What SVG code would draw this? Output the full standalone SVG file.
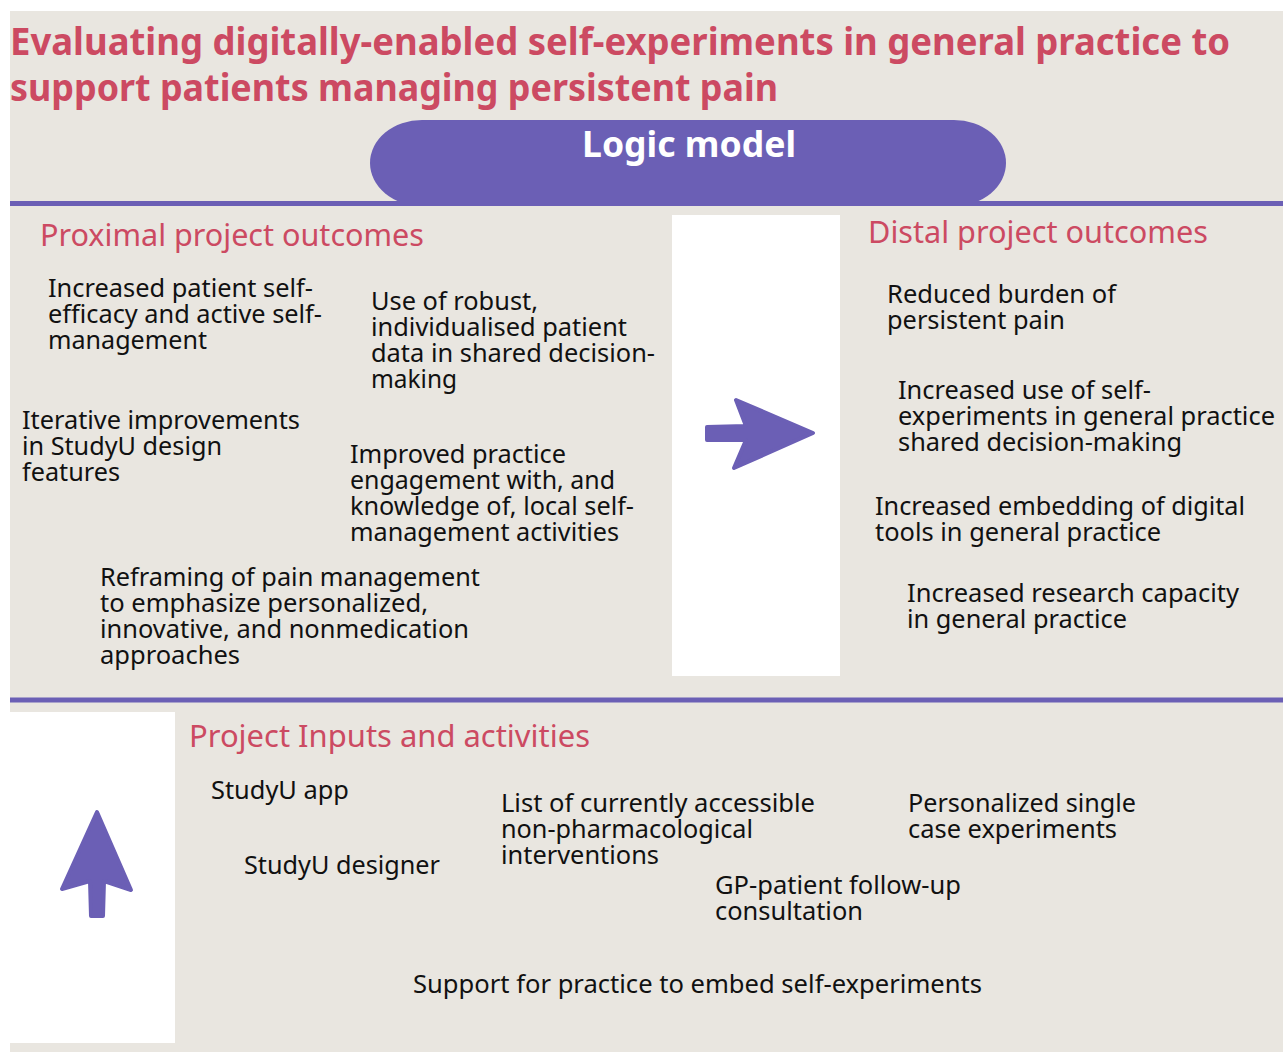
<svg xmlns="http://www.w3.org/2000/svg" width="1283" height="1052" viewBox="0 0 1283 1052">
  <style>
    .title { font-family: "Noto Sans", "DejaVu Sans", sans-serif; font-weight: 700; font-size: 38px; fill: #cc4a62; }
    .head { font-family: "Noto Sans", "DejaVu Sans", sans-serif; font-size: 30px; fill: #cc4a62; }
    .item { font-family: "Noto Sans", "DejaVu Sans", sans-serif; font-size: 24.5px; fill: #111111; }
    .pilltext { font-family: "Noto Sans", "DejaVu Sans", sans-serif; font-weight: 700; font-size: 36px; fill: #ffffff; }
    .rule { stroke: #6b5fb5; stroke-width: 5; }
    .arrow { fill: #6b5fb5; stroke: #6b5fb5; stroke-width: 4; stroke-linejoin: round; }
  </style>

  <!-- page -->
  <rect x="0" y="0" width="1283" height="1052" fill="#ffffff"/>
  <rect x="10" y="11" width="1273" height="1041" fill="#e9e6e0"/>

  <!-- white panels -->
  <rect x="672" y="215" width="168" height="461" fill="#ffffff"/>
  <rect x="10" y="712" width="165" height="331" fill="#ffffff"/>

  <!-- title -->
  <g id="title">
    <text class="title" x="10" y="55" textLength="1220" lengthAdjust="spacingAndGlyphs">Evaluating digitally-enabled self-experiments in general practice to</text>
    <text class="title" x="10" y="101" textLength="768" lengthAdjust="spacingAndGlyphs">support patients managing persistent pain</text>
  </g>

  <!-- banner -->
  <g id="logic-model">
    <rect x="370" y="120" width="636" height="86" rx="52" ry="44" fill="#6b5fb5"/>
    <text class="pilltext" x="582" y="157" textLength="214" lengthAdjust="spacingAndGlyphs">Logic model</text>
  </g>

  <!-- dividers -->
  <line class="rule" x1="10" y1="203.5" x2="1283" y2="203.5"/>
  <line class="rule" x1="10" y1="700" x2="1283" y2="700"/>

  <!-- section headings -->
  <g id="proximal-heading">
    <text class="head" x="40" y="246" textLength="384" lengthAdjust="spacingAndGlyphs">Proximal project outcomes</text>
  </g>
  <g id="distal-heading">
    <text class="head" x="868" y="243" textLength="340" lengthAdjust="spacingAndGlyphs">Distal project outcomes</text>
  </g>
  <g id="inputs-heading">
    <text class="head" x="189" y="747" textLength="401" lengthAdjust="spacingAndGlyphs">Project Inputs and activities</text>
  </g>

  <!-- proximal outcomes -->
  <g id="self-efficacy">
    <text class="item" x="48" y="297" textLength="265" lengthAdjust="spacingAndGlyphs">Increased patient self-</text>
    <text class="item" x="48" y="323" textLength="274" lengthAdjust="spacingAndGlyphs">efficacy and active self-</text>
    <text class="item" x="48" y="349" textLength="159" lengthAdjust="spacingAndGlyphs">management</text>
  </g>
  <g id="patient-data">
    <text class="item" x="371" y="310" textLength="167" lengthAdjust="spacingAndGlyphs">Use of robust,</text>
    <text class="item" x="371" y="336" textLength="256" lengthAdjust="spacingAndGlyphs">individualised patient</text>
    <text class="item" x="371" y="362" textLength="284" lengthAdjust="spacingAndGlyphs">data in shared decision-</text>
    <text class="item" x="371" y="388" textLength="86" lengthAdjust="spacingAndGlyphs">making</text>
  </g>
  <g id="design-improvements">
    <text class="item" x="22" y="429" textLength="278" lengthAdjust="spacingAndGlyphs">Iterative improvements</text>
    <text class="item" x="22" y="455" textLength="200" lengthAdjust="spacingAndGlyphs">in StudyU design</text>
    <text class="item" x="22" y="481" textLength="98" lengthAdjust="spacingAndGlyphs">features</text>
  </g>
  <g id="practice-engagement">
    <text class="item" x="350" y="463" textLength="216" lengthAdjust="spacingAndGlyphs">Improved practice</text>
    <text class="item" x="350" y="489" textLength="265" lengthAdjust="spacingAndGlyphs">engagement with, and</text>
    <text class="item" x="350" y="515" textLength="284" lengthAdjust="spacingAndGlyphs">knowledge of, local self-</text>
    <text class="item" x="350" y="541" textLength="269" lengthAdjust="spacingAndGlyphs">management activities</text>
  </g>
  <g id="reframing">
    <text class="item" x="100" y="586" textLength="380" lengthAdjust="spacingAndGlyphs">Reframing of pain management</text>
    <text class="item" x="100" y="612" textLength="328" lengthAdjust="spacingAndGlyphs">to emphasize personalized,</text>
    <text class="item" x="100" y="638" textLength="369" lengthAdjust="spacingAndGlyphs">innovative, and nonmedication</text>
    <text class="item" x="100" y="664" textLength="140" lengthAdjust="spacingAndGlyphs">approaches</text>
  </g>

  <!-- distal outcomes -->
  <g id="reduced-burden">
    <text class="item" x="887" y="303" textLength="229" lengthAdjust="spacingAndGlyphs">Reduced burden of</text>
    <text class="item" x="887" y="329" textLength="178" lengthAdjust="spacingAndGlyphs">persistent pain</text>
  </g>
  <g id="self-experiment-use">
    <text class="item" x="898" y="399" textLength="253" lengthAdjust="spacingAndGlyphs">Increased use of self-</text>
    <text class="item" x="898" y="425" textLength="377" lengthAdjust="spacingAndGlyphs">experiments in general practice</text>
    <text class="item" x="898" y="451" textLength="284" lengthAdjust="spacingAndGlyphs">shared decision-making</text>
  </g>
  <g id="digital-embedding">
    <text class="item" x="875" y="515" textLength="370" lengthAdjust="spacingAndGlyphs">Increased embedding of digital</text>
    <text class="item" x="875" y="541" textLength="286" lengthAdjust="spacingAndGlyphs">tools in general practice</text>
  </g>
  <g id="research-capacity">
    <text class="item" x="907" y="602" textLength="332" lengthAdjust="spacingAndGlyphs">Increased research capacity</text>
    <text class="item" x="907" y="628" textLength="220" lengthAdjust="spacingAndGlyphs">in general practice</text>
  </g>

  <!-- inputs and activities -->
  <g id="studyu-app">
    <text class="item" x="211" y="799" textLength="138" lengthAdjust="spacingAndGlyphs">StudyU app</text>
  </g>
  <g id="studyu-designer">
    <text class="item" x="244" y="874" textLength="196" lengthAdjust="spacingAndGlyphs">StudyU designer</text>
  </g>
  <g id="interventions-list">
    <text class="item" x="501" y="812" textLength="314" lengthAdjust="spacingAndGlyphs">List of currently accessible</text>
    <text class="item" x="501" y="838" textLength="252" lengthAdjust="spacingAndGlyphs">non-pharmacological</text>
    <text class="item" x="501" y="864" textLength="158" lengthAdjust="spacingAndGlyphs">interventions</text>
  </g>
  <g id="single-case">
    <text class="item" x="908" y="812" textLength="228" lengthAdjust="spacingAndGlyphs">Personalized single</text>
    <text class="item" x="908" y="838" textLength="209" lengthAdjust="spacingAndGlyphs">case experiments</text>
  </g>
  <g id="follow-up">
    <text class="item" x="715" y="894" textLength="246" lengthAdjust="spacingAndGlyphs">GP-patient follow-up</text>
    <text class="item" x="715" y="920" textLength="148" lengthAdjust="spacingAndGlyphs">consultation</text>
  </g>
  <g id="practice-support">
    <text class="item" x="413" y="993" textLength="569" lengthAdjust="spacingAndGlyphs">Support for practice to embed self-experiments</text>
  </g>

  <!-- connectors -->
  <g id="connectors">
    <path class="arrow" d="M707,427 L746,426 L736,400 L813,433 L734,468 L746,440 L707,440 Z"/>
    <path class="arrow" d="M91,916 L90,881 L62,889 L97,812 L131,890 L104,881 L103,916 Z"/>
  </g>
</svg>
